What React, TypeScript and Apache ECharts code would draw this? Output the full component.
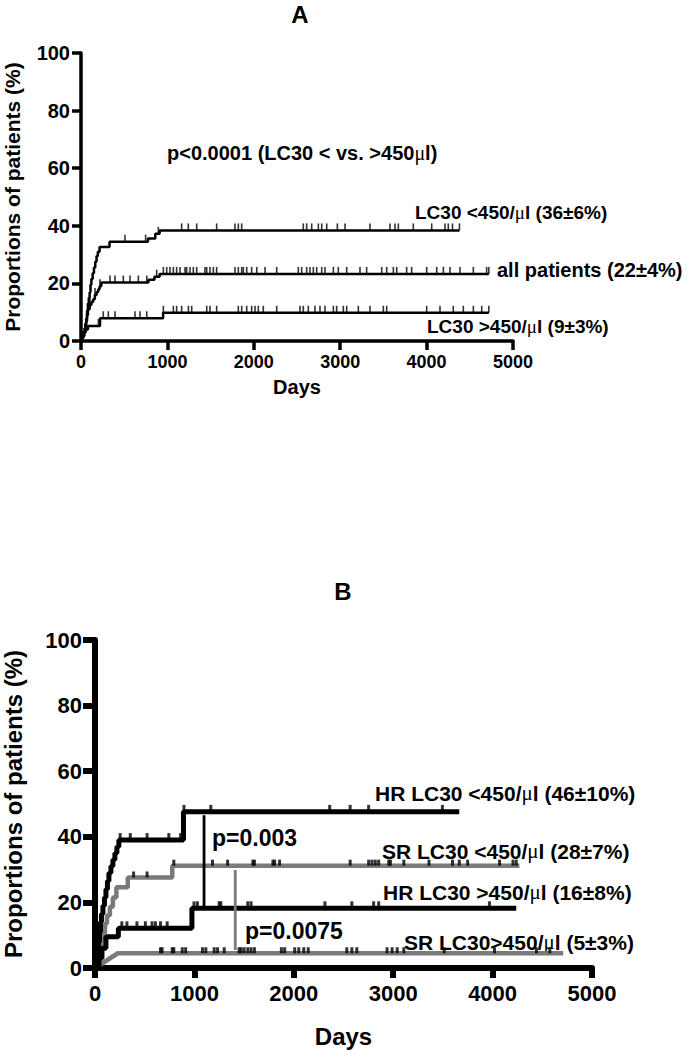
import React, { useEffect, useRef } from "react";
import * as echarts from "echarts";

// ---------- Panel A data (days, cumulative %) ----------
const A_LOW: [number, number][] = [
  [0, 0], [10, 1.5], [20, 2.5], [30, 3.5], [40, 4.5], [50, 6], [60, 8], [70, 10.5], [80, 13],
  [90, 15], [100, 17], [110, 19.5], [120, 21.5], [135, 23.5], [150, 25.5], [165, 27.5],
  [180, 29.5], [195, 31], [215, 32.6], [330, 34.5], [775, 35.6], [860, 37.2], [910, 38.4],
  [4380, 38.4],
];
const A_ALL: [number, number][] = [
  [0, 0], [10, 1], [25, 2], [40, 3], [50, 5], [60, 7], [70, 9], [80, 11], [100, 12.5],
  [120, 13.5], [140, 14.5], [160, 16], [180, 17], [200, 18], [215, 19], [235, 20.3],
  [780, 21.3], [850, 22.3], [910, 23.3], [4720, 23.3],
];
const A_HIGH: [number, number][] = [
  [0, 0], [15, 1.5], [35, 3], [55, 4], [80, 5.2], [220, 7.9], [950, 9.8], [4720, 9.8],
];
const A_LOW_CENSOR = [
  509, 748, 895, 1165, 1242, 1339, 1570, 1782, 1821, 1860, 2573, 2612, 2670, 2747, 2786,
  2844, 2967, 3056, 3345, 3576, 3634, 3673, 3846, 4059, 4213, 4251, 4300, 4380,
];
const A_ALL_CENSOR = [
  104, 162, 220, 336, 394, 490, 567, 664, 761, 876, 953, 992, 1030, 1069, 1107, 1146, 1204,
  1223, 1262, 1300, 1339, 1435, 1455, 1493, 1532, 1570, 1782, 1821, 1860, 1879, 1918, 1975,
  2034, 2130, 2265, 2515, 2554, 2612, 2650, 2689, 2728, 2786, 2824, 2921, 2978, 3075, 3229,
  3306, 3480, 3538, 3615, 3654, 3769, 3827, 4001, 4117, 4194, 4271, 4387, 4541, 4695, 4720,
];
const A_HIGH_CENSOR = [
  201, 258, 316, 394, 625, 683, 761, 953, 1069, 1107, 1165, 1243, 1281, 1455, 1493, 1570,
  1821, 1860, 1918, 1975, 2014, 2052, 2110, 2265, 2535, 2573, 2631, 2708, 2766, 2824, 2921,
  2959, 3036, 3075, 3210, 3345, 3499, 3538, 4001, 4155, 4309, 4425, 4541, 4638, 4720,
];

// ---------- Panel B data ----------
const B_HR_LOW: [number, number][] = [
  [0, 0], [15, 2], [25, 5], [35, 8], [45, 11], [55, 14], [65, 16.5], [80, 19], [95, 21.5],
  [110, 24], [125, 26.5], [140, 29], [160, 31], [180, 33], [200, 35], [220, 37], [240, 39],
  [890, 47.6], [3665, 47.6],
];
const B_SR_LOW: [number, number][] = [
  [0, 0], [20, 2], [35, 3.4], [50, 6], [65, 8.5], [84, 10.7], [100, 13.5], [120, 16],
  [150, 18.7], [180, 21.5], [215, 24.6], [330, 27.6], [777, 31.2], [4270, 31.2],
];
const B_HR_HIGH: [number, number][] = [
  [0, 0], [40, 3], [70, 6], [110, 9.5], [235, 12.1], [975, 18.2], [4238, 18.2],
];
const B_SR_HIGH: [number, number][] = [[0, 0], [230, 4.5], [4710, 4.5]];

const B_HR_LOW_CENSOR = [253, 355, 524, 743, 861, 895, 1165, 2361, 2567, 2753, 3495];
const B_SR_LOW_CENSOR = [
  388, 524, 793, 1182, 1334, 1588, 1604, 1790, 1807, 1857, 2567, 2753, 2787, 2820, 2854,
  2955, 2972, 3107, 3360, 3597, 3665, 3749, 4070, 4205, 4238,
];
const B_HR_HIGH_CENSOR = [
  270, 321, 422, 507, 574, 608, 659, 726, 996, 1030, 1249, 1266, 1537, 1570, 2313, 2584,
  2803, 2854, 3968,
];
const B_SR_HIGH_CENSOR = [
  659, 675, 777, 793, 878, 912, 1081, 1115, 1199, 1233, 1300, 1449, 1470, 1500, 1537, 1570,
  1604, 1875, 1908, 2009, 2050, 2100, 2145, 2533, 2584, 2634, 2938, 2989, 3040, 3107, 3513,
  4019, 4441, 4576,
];
// p-value connectors (day, from %, to %)
const B_P1: [number, number][] = [[1097, 46.6], [1097, 18.7]];
const B_P2: [number, number][] = [[1411, 29.9], [1411, 5.5]];

// ---------- Tick labels / texts ----------
const X_TICKS = [0, 1000, 2000, 3000, 4000, 5000];
const Y_TICKS = [0, 20, 40, 60, 80, 100];
const TITLE_A = "A";
const TITLE_B = "B";
const Y_NAME = "Proportions of patients (%)";
const X_NAME = "Days";
const A_TEXTS = [
  "p<0.0001 (LC30 < vs. >450μl)",
  "LC30 <450/μl (36±6%)",
  "all patients (22±4%)",
  "LC30 >450/μl (9±3%)",
];
const B_TEXTS = [
  "HR LC30 <450/μl (46±10%)",
  "p=0.003",
  "SR LC30 <450/μl (28±7%)",
  "HR LC30 >450/μl (16±8%)",
  "p=0.0075",
  "SR LC30>450/μl (5±3%)",
];

const FONT = '"Liberation Sans", Arial, Helvetica, sans-serif';
const SERIF = '"Liberation Serif", "DejaVu Serif", serif';
const GRAY = "#7a7a7a";

function valueAt(curve: [number, number][], day: number) {
  let v = 0;
  for (const [d, val] of curve) {
    if (d <= day) v = val;
    else break;
  }
  return v;
}

function lineSeries(data: [number, number][], idx: number, color: string, width: number, step: any = "end") {
  return {
    type: "line",
    xAxisIndex: idx,
    yAxisIndex: idx,
    data,
    step,
    showSymbol: false,
    symbol: "none",
    lineStyle: { color, width, cap: "butt" },
    silent: true,
    z: 3,
  };
}

function tickSeries(curve: [number, number][], days: number[], idx: number, w: number, h: number) {
  return {
    type: "scatter",
    xAxisIndex: idx,
    yAxisIndex: idx,
    data: days.map((d) => [d, valueAt(curve, d)]),
    symbol: "rect",
    symbolSize: [w, h],
    symbolOffset: [0, -h / 2],
    itemStyle: { color: "#000" },
    silent: true,
    z: 4,
  };
}

function rich(t: string) {
  return t.replace(/μ/g, "{mu|μ}");
}

function label(text: string, x: number, y: number, size: number, align = "left") {
  return {
    type: "text",
    x,
    y,
    silent: true,
    style: {
      text: rich(text),
      fontFamily: FONT,
      fontSize: size,
      fontWeight: "bold",
      fill: "#000",
      align,
      verticalAlign: "middle",
      rich: {
        mu: { fontFamily: SERIF, fontWeight: "normal", fontSize: size, fill: "#000" },
      },
    },
  };
}

function xAxis(idx: number, lw: number, tickLen: number, fs: number, margin: number, nameFs: number, nameGap: number) {
  return {
    type: "value",
    gridIndex: idx,
    min: X_TICKS[0],
    max: X_TICKS[X_TICKS.length - 1],
    interval: X_TICKS[1] - X_TICKS[0],
    name: X_NAME,
    nameLocation: "middle",
    nameGap,
    nameTextStyle: { fontFamily: FONT, fontSize: nameFs, fontWeight: "bold", color: "#000" },
    axisLine: { show: true, onZero: false, lineStyle: { color: "#000", width: lw } },
    axisTick: { show: true, length: tickLen, lineStyle: { color: "#000", width: lw } },
    splitLine: { show: false },
    axisLabel: {
      fontFamily: FONT, fontSize: fs, fontWeight: "bold", color: "#000", margin,
      formatter: (v: number) => String(v),
    },
  };
}

function yAxis(idx: number, lw: number, tickLen: number, fs: number, margin: number, nameFs: number, nameGap: number) {
  return {
    type: "value",
    gridIndex: idx,
    min: Y_TICKS[0],
    max: Y_TICKS[Y_TICKS.length - 1],
    interval: Y_TICKS[1] - Y_TICKS[0],
    name: Y_NAME,
    nameLocation: "middle",
    nameGap,
    nameTextStyle: { fontFamily: FONT, fontSize: nameFs, fontWeight: "bold", color: "#000" },
    axisLine: { show: true, onZero: false, lineStyle: { color: "#000", width: lw } },
    axisTick: { show: true, length: tickLen, lineStyle: { color: "#000", width: lw } },
    splitLine: { show: false },
    axisLabel: {
      fontFamily: FONT, fontSize: fs, fontWeight: "bold", color: "#000", margin,
      formatter: (v: number) => String(v),
    },
  };
}

export default function App() {
  const ref = useRef<HTMLDivElement>(null);
  useEffect(() => {
    if (!ref.current) return;
    const chart = echarts.init(ref.current, null, { renderer: "svg" });
    const option: any = {
      animation: false,
      backgroundColor: "#fff",
      grid: [
        { left: 81, top: 53, width: 432, height: 288, containLabel: false, outerBoundsMode: "none" },
        { left: 95, top: 640, width: 497, height: 328, containLabel: false, outerBoundsMode: "none" },
      ],
      xAxis: [xAxis(0, 3.5, 9, 18, 12, 20, 36), xAxis(1, 6, 10, 22, 14, 24, 56)],
      yAxis: [yAxis(0, 3.5, 9, 20, 11, 21, 58), yAxis(1, 6, 12, 22, 13, 24, 70)],
      series: [
        lineSeries(A_LOW, 0, "#000", 2.5),
        lineSeries(A_ALL, 0, "#000", 2.5),
        lineSeries(A_HIGH, 0, "#000", 2.5),
        tickSeries(A_LOW, A_LOW_CENSOR, 0, 1.6, 7),
        tickSeries(A_ALL, A_ALL_CENSOR, 0, 1.6, 7),
        tickSeries(A_HIGH, A_HIGH_CENSOR, 0, 1.6, 7),
        lineSeries(B_SR_LOW, 1, GRAY, 4.5),
        lineSeries(B_SR_HIGH, 1, GRAY, 4.5, false),
        lineSeries(B_HR_LOW, 1, "#000", 5),
        lineSeries(B_HR_HIGH, 1, "#000", 5),
        lineSeries(B_P1, 1, "#000", 2.8, false),
        lineSeries(B_P2, 1, GRAY, 2.8, false),
        tickSeries(B_HR_LOW, B_HR_LOW_CENSOR, 1, 3, 7),
        tickSeries(B_SR_LOW, B_SR_LOW_CENSOR, 1, 3, 6),
        tickSeries(B_HR_HIGH, B_HR_HIGH_CENSOR, 1, 3, 7),
        tickSeries(B_SR_HIGH, B_SR_HIGH_CENSOR, 1, 3, 6),
      ],
      graphic: [
        label(TITLE_A, 300, 14, 24, "center"),
        label(A_TEXTS[0], 167, 153, 20),
        label(A_TEXTS[1], 415, 212, 19),
        label(A_TEXTS[2], 497, 270, 20),
        label(A_TEXTS[3], 427, 326, 19),
        label(TITLE_B, 343, 591, 24, "center"),
        label(B_TEXTS[0], 375, 793, 21),
        label(B_TEXTS[1], 212, 838, 23),
        label(B_TEXTS[2], 382, 851, 21),
        label(B_TEXTS[3], 383, 892, 21),
        label(B_TEXTS[4], 245, 931, 23),
        label(B_TEXTS[5], 404, 942, 21),
      ],
    };
    chart.setOption(option);
    return () => chart.dispose();
  }, []);
  return (
    <div
      ref={ref}
      style={{ position: "absolute", left: 0, top: 0, width: 695, height: 1050, background: "#fff" }}
    />
  );
}
